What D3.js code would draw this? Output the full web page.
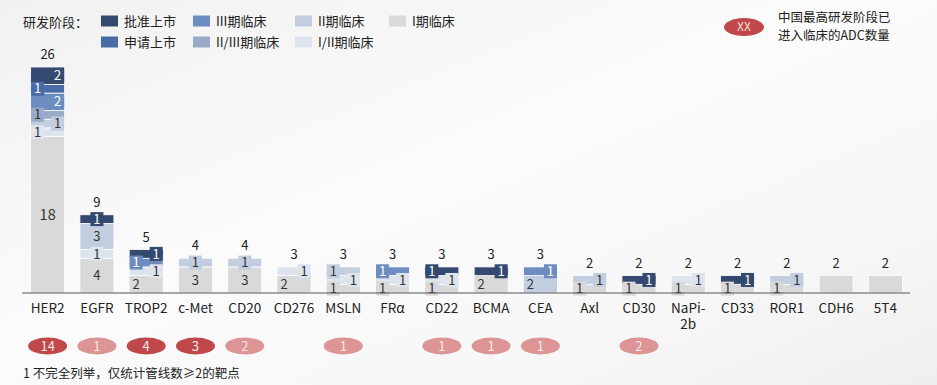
<!DOCTYPE html>
<html><head><meta charset="utf-8">
<script src="https://cdn.jsdelivr.net/npm/d3@7"></script>
<style>
html,body{margin:0;padding:0;background:#f6f6f6;}
svg{display:block;font-family:"Noto Sans CJK SC","Microsoft YaHei",sans-serif;}
</style></head><body>
<svg id="chart" width="937" height="385"></svg>
<script>
// ---- data ----
const categories = ["HER2","EGFR","TROP2","c-Met","CD20","CD276","MSLN","FRα","CD22","BCMA","CEA","Axl","CD30","NaPi-2b","CD33","ROR1","CDH6","5T4"];
const stages = ["I期临床","I/II期临床","II期临床","II/III期临床","III期临床","申请上市","批准上市"]; // bottom -> top
const phase1    = [18,4,2,3,3,2,1,1,1,2,0,1,1,1,1,1,2,2];
const phase1_2  = [1,1,1,0,0,1,1,1,1,0,0,0,0,1,0,0,0,0];
const phase2    = [1,3,0,1,1,0,1,0,0,0,2,1,0,0,0,1,0,0];
const phase2_3  = [1,0,0,0,0,0,0,0,0,0,0,0,0,0,0,0,0,0];
const phase3    = [2,0,1,0,0,0,0,1,0,0,1,0,0,0,0,0,0,0];
const filed     = [1,0,0,0,0,0,0,0,0,0,0,0,0,0,0,0,0,0];
const approved  = [2,1,1,0,0,0,0,0,1,1,0,0,1,0,1,0,0,0];
const chinaClinical = [14,1,4,3,2,null,1,null,1,1,1,null,2,null,null,null,null,null];
const legendOrder = ["批准上市","III期临床","II期临床","I期临床","申请上市","II/III期临床","I/II期临床"];
const footnote = "1 不完全列举，仅统计管线数≥2的靶点";

const stageColors = {
  "I期临床":"#d9d9d9","I/II期临床":"#dee4ed","II期临床":"#c2cee0","II/III期临床":"#9aabc9",
  "III期临床":"#6d8dc0","申请上市":"#4a6ca6","批准上市":"#34496f"
};
const darkStages = new Set(["III期临床","申请上市","批准上市"]);

const seriesVals = [phase1,phase1_2,phase2,phase2_3,phase3,filed,approved];
const table = categories.map((c,i)=>{
  const o={cat:c};
  stages.forEach((s,k)=>o[s]=seriesVals[k][i]);
  o.total = d3.sum(seriesVals,v=>v[i]);
  o.china = chinaClinical[i];
  return o;
});

const svg = d3.select("#chart");
const W=937,H=385;
const defs = svg.append("defs");
const lg = defs.append("linearGradient").attr("id","bg").attr("x1","0").attr("y1","0").attr("x2","1").attr("y2","1");
lg.append("stop").attr("offset","0%").attr("stop-color","#f1f1f1");
lg.append("stop").attr("offset","45%").attr("stop-color","#fbfbfb");
lg.append("stop").attr("offset","75%").attr("stop-color","#f7f7f7");
lg.append("stop").attr("offset","100%").attr("stop-color","#efefef");
svg.append("rect").attr("width",W).attr("height",H).attr("fill","url(#bg)");

const x = d3.scaleBand().domain(categories).range([23,910]).paddingInner(0.31).paddingOuter(0.155);
const y = d3.scaleLinear().domain([0,26]).range([293,67]);

const stack = d3.stack().keys(stages)(table);

const g = svg.append("g");
stack.forEach(layer=>{
  const key = layer.key;
  g.selectAll(null).data(layer.filter(d=>d[1]-d[0]>0)).enter().append("rect")
    .attr("x",d=>x(d.data.cat))
    .attr("width",x.bandwidth())
    .attr("y",d=>y(d[1]))
    .attr("height",d=>y(d[0])-y(d[1]))
    .attr("fill",stageColors[key])
    .attr("stroke","#ffffff").attr("stroke-width",0.8);
});

// segment labels
table.forEach((row,i)=>{
  const segs=[];
  stack.forEach(layer=>{
    const d=layer[i];
    if(d[1]-d[0]>0) segs.push({key:layer.key,v:d[1]-d[0],y0:d[0],y1:d[1]});
  });
  if(row.cat==="CDH6"||row.cat==="5T4") return;
  let crowded=false;
  for(let k=1;k<segs.length;k++) if(segs[k].v+segs[k-1].v<=3) crowded=true;
  let idx=0;
  const bx=x(row.cat), bw=x.bandwidth();
  segs.forEach(s=>{
    let cx;
    if(!crowded || s.v>=5){ cx=bx+bw/2; }
    else { cx = (idx%2===0)? bx+7 : bx+bw-7; idx++; }
    const cy=(y(s.y0)+y(s.y1))/2;
    const txt=String(s.v);
    const tw = txt.length*8+5;
    g.append("rect").attr("x",cx-tw/2).attr("y",cy-7).attr("width",tw).attr("height",14)
      .attr("fill",stageColors[s.key]);
    g.append("text").attr("x",cx).attr("y",cy).attr("dy","0.36em").attr("text-anchor","middle")
      .attr("font-size",s.v>=5?14.5:13).attr("fill",darkStages.has(s.key)?"#ffffff":"#333333").text(txt);
  });
});

// totals
g.selectAll(null).data(table).enter().append("text")
  .attr("x",d=>x(d.cat)+x.bandwidth()/2).attr("y",d=>y(d.total)-8)
  .attr("text-anchor","middle").attr("font-size",13).attr("fill","#222").text(d=>d.total);

// axis
const axis = d3.axisBottom(x).tickSize(0).tickPadding(10);
const ax = svg.append("g").attr("transform","translate(0,293)").call(axis);
ax.select(".domain").attr("d","M22,0H910").attr("stroke","#555").attr("stroke-width",1.2);
ax.selectAll(".tick text").attr("font-size",13.5).attr("fill","#222")
  .attr("font-family",'"Noto Sans CJK SC",sans-serif')
  .each(function(d){
    if(d==="NaPi-2b"){
      const t=d3.select(this); t.text(null);
      t.append("tspan").attr("x",0).attr("dy","0.71em").text("NaPi-");
      t.append("tspan").attr("x",0).attr("dy","1.2em").text("2b");
      t.attr("dy",null);
    }
  });

// china ellipses
const red = v => v>=3 ? "#c0474a" : "#dc9495";
const ell = g.selectAll(null).data(table.filter(d=>d.china!=null)).enter().append("g")
  .attr("transform",d=>`translate(${x(d.cat)+x.bandwidth()/2},346)`);
ell.append("ellipse").attr("rx",19.5).attr("ry",8.5).attr("fill",d=>red(d.china));
ell.append("text").attr("text-anchor","middle").attr("dy","0.36em").attr("font-size",13)
  .attr("fill","#fbe9e9").text(d=>d.china);

// legend
svg.append("text").attr("x",23).attr("y",22).attr("dy","0.36em").attr("font-size",13).attr("fill","#222").text("研发阶段：");
const colX=[101,193,295,389];
legendOrder.forEach((s,k)=>{
  const row = k<4?0:1, col = k<4?k:k-4;
  const lx=colX[col], ly= row===0?21:42;
  svg.append("rect").attr("x",lx).attr("y",ly-5.5).attr("width",17).attr("height",11).attr("fill",stageColors[s]);
  svg.append("text").attr("x",lx+23).attr("y",ly).attr("dy","0.36em").attr("font-size",13).attr("fill","#222").text(s);
});
svg.append("ellipse").attr("cx",744).attr("cy",27).attr("rx",20).attr("ry",9).attr("fill","#c0474a");
svg.append("text").attr("x",744).attr("y",27).attr("dy","0.36em").attr("text-anchor","middle").attr("font-size",12).attr("fill","#f7dcdc").text("XX");
svg.append("text").attr("x",778).attr("y",17).attr("dy","0.36em").attr("font-size",12.5).attr("fill","#222").text("中国最高研发阶段已");
svg.append("text").attr("x",778).attr("y",35).attr("dy","0.36em").attr("font-size",12.5).attr("fill","#222").text("进入临床的ADC数量");

svg.append("text").attr("x",23).attr("y",378).attr("font-size",12.5).attr("fill","#222").text(footnote);
</script>
</body></html>
